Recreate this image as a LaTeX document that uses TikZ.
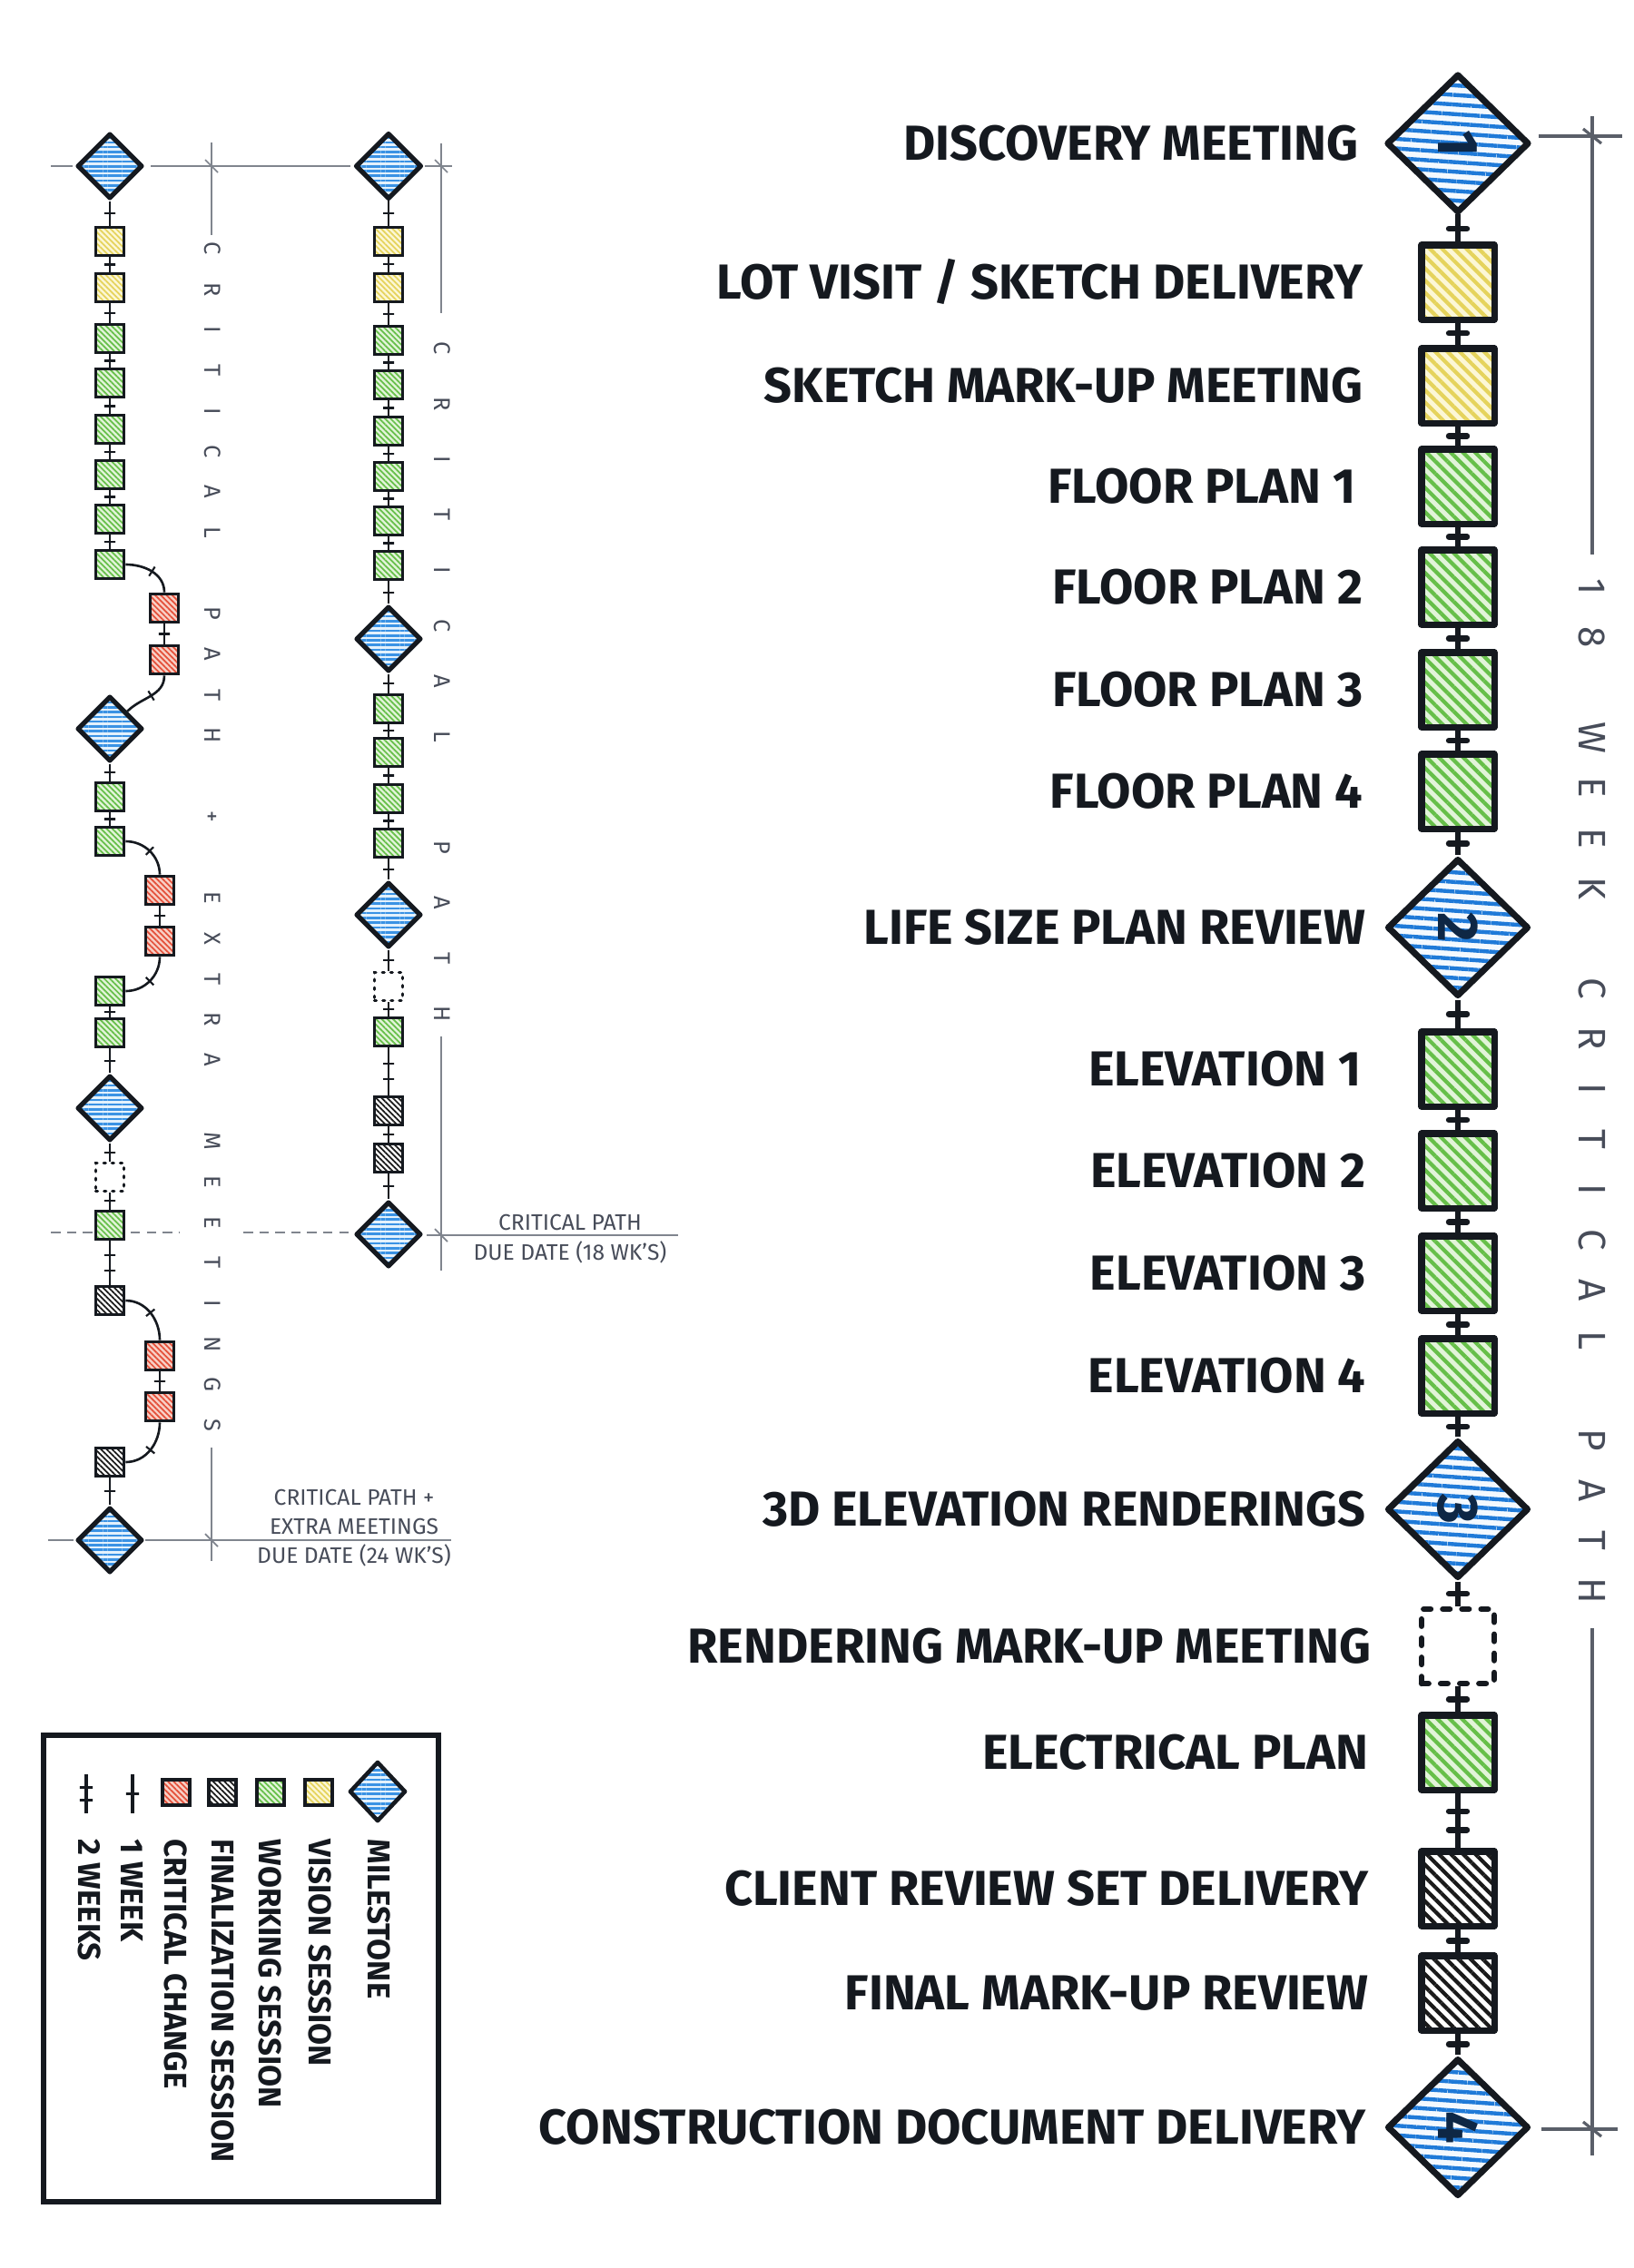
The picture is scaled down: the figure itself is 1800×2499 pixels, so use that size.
\documentclass[tikz,border=0pt]{standalone}
\usepackage{fontspec}
\setmainfont{Fira Sans}
\usepackage{graphicx}
\usetikzlibrary{shapes.geometric,patterns.meta}
\definecolor{ink}{HTML}{15191F}
\definecolor{navy}{HTML}{0E2745}
\definecolor{dimgray}{HTML}{80858E}
\definecolor{dimgrayD}{HTML}{5A5F69}
\definecolor{dimtext}{HTML}{474C59}
\definecolor{blueS}{HTML}{1F7AD8}
\definecolor{blueBg}{HTML}{F4F9FE}
\definecolor{blueSS}{HTML}{3A92E4}
\definecolor{blueBgS}{HTML}{E3F1FC}
\definecolor{yelS}{HTML}{E5D35C}
\definecolor{yelBg}{HTML}{FCF7D6}
\definecolor{grnS}{HTML}{66BF49}
\definecolor{grnBg}{HTML}{E2F4D9}
\definecolor{redS}{HTML}{E4503A}
\definecolor{redBg}{HTML}{F8D0C6}
\definecolor{blkS}{HTML}{1A1A1A}
\definecolor{blkBg}{HTML}{FFFFFF}
\tikzset{
  conn/.style={draw=ink, line width=1.5pt},
  smconn/.style={draw=ink, line width=0.75pt},
  tk/.style={sloped, draw=ink, line width=1.8pt, line join=round, rectangle, minimum width=0pt, minimum height=0.2cm, inner sep=0pt, outer sep=0pt},
  smtk/.style={sloped, draw=ink, line width=0.6pt, rectangle, minimum width=0pt, minimum height=0.12cm, inner sep=0pt, outer sep=0pt},
  bigbox/.style={rectangle, draw=ink, line width=2pt, line join=round, minimum width=0.8cm, minimum height=0.82cm, inner sep=0pt},
  smbox/.style={rectangle, draw=ink, line width=1.1pt, minimum width=0.31cm, minimum height=0.31cm, inner sep=0pt},
  bighatch/.style={preaction={fill=#1Bg}, pattern={Lines[angle=-45,distance=2.7pt,line width=1.2pt]}, pattern color=#1S},
  smhatch/.style={preaction={fill=#1Bg}, pattern={Lines[angle=-45,distance=1.25pt,line width=0.5pt]}, pattern color=#1S},
  bigdia/.style={diamond, draw=ink, line width=2pt, line join=round, minimum width=1.56cm, minimum height=1.52cm, inner sep=0pt, preaction={fill=blueBg}, pattern={Lines[angle=-4,distance=3pt,line width=1.25pt]}, pattern color=blueS, text=navy, font=\bfseries\fontsize{18}{18}\selectfont},
  smdia/.style={diamond, draw=ink, line width=1.5pt, line join=round, minimum width=0.72cm, minimum height=0.72cm, inner sep=0pt, preaction={fill=blueBgS}, pattern={Lines[angle=0,distance=1.5pt,line width=0.75pt]}, pattern color=blueSS},
  bigdot/.style={rectangle, draw=ink, line width=1.8pt, dash pattern=on 2.2pt off 3.8pt, line cap=round, minimum width=0.8cm, minimum height=0.82cm, inner sep=0pt, fill=white},
  smdot/.style={rectangle, draw=ink, line width=0.9pt, dash pattern=on 0.6pt off 2pt, line cap=round, minimum width=0.31cm, minimum height=0.31cm, inner sep=0pt, fill=white},
  mlabel/.style={anchor=east, inner sep=0pt, text=ink, text height=10.6pt, text depth=0pt, font=\bfseries\fontsize{15.4}{15.4}\selectfont},
  legtext/.style={rotate=-90, anchor=west, inner sep=0pt, text=ink, text height=6.8pt, text depth=0pt, font=\bfseries\fontsize{9.9}{9.9}\selectfont},
  dimline/.style={draw=dimgray, line width=0.5pt},
  mdimline/.style={draw=dimgrayD, line width=0.9pt},
  dimtxt/.style={inner sep=0pt, text=dimtext, font=\fontsize{7}{7}\selectfont},
  vletbig/.style={rotate=-90, inner sep=0pt, text=dimtext, text height=8.3pt, text depth=0pt, font=\fontsize{12}{12}\selectfont},
  vletsm/.style={rotate=-90, inner sep=0pt, text=dimtext, text height=5pt, text depth=0pt, font=\fontsize{7.2}{7.2}\selectfont},
}
\begin{document}
\begin{tikzpicture}[x=0.01cm,y=-0.01cm]
\useasboundingbox (0,0) rectangle (1800,2499);
\fill[white] (0,0) rectangle (1800,2499);

% ---------- dimension lines (behind) ----------
\draw[mdimline] (1695,150) -- (1787,150);
\draw[mdimline] (1754,128) -- (1754,611);
\draw[mdimline] (1754,1794) -- (1754,2375);
\draw[mdimline] (1698,2346) -- (1782,2346);
\draw[mdimline] (1744,142) -- (1764,158);
\draw[mdimline] (1744,2338) -- (1764,2354);

\draw[dimline] (56,183) -- (80,183);
\draw[dimline] (166,183) -- (386,183);
\draw[dimline] (468,183) -- (498,183);
\draw[dimline] (233,157) -- (233,259);
\draw[dimline] (233,1595) -- (233,1720);
\draw[dimline] (486,158) -- (486,345);
\draw[dimline] (486,1142) -- (486,1400);
\draw[dimline] (470,1361) -- (747,1361);
\draw[dimline] (53,1697) -- (81,1697);
\draw[dimline] (160,1697) -- (497,1697);
\draw[dimline] (226,176) -- (240,190);
\draw[dimline] (479,176) -- (493,190);
\draw[dimline] (479,1354) -- (493,1368);
\draw[dimline] (226,1690) -- (240,1704);
\draw[dimline, dash pattern=on 3pt off 2pt] (56,1358) -- (197,1358);
\draw[dimline, dash pattern=on 3pt off 2pt] (268,1358) -- (385,1358);

% ---------- main column ----------
\def\mx{1606}
\node[bigdia] (m1) at (\mx,158) {\rotatebox{-90}{1}};
\node[bigbox, bighatch=yel] (m2) at (\mx,311) {};
\node[bigbox, bighatch=yel] (m3) at (\mx,425) {};
\node[bigbox, bighatch=grn] (m4) at (\mx,536) {};
\node[bigbox, bighatch=grn] (m5) at (\mx,647) {};
\node[bigbox, bighatch=grn] (m6) at (\mx,760) {};
\node[bigbox, bighatch=grn] (m7) at (\mx,872) {};
\node[bigdia] (m8) at (\mx,1022) {\rotatebox{-90}{2}};
\node[bigbox, bighatch=grn] (m9) at (\mx,1178) {};
\node[bigbox, bighatch=grn] (m10) at (\mx,1290) {};
\node[bigbox, bighatch=grn] (m11) at (\mx,1403) {};
\node[bigbox, bighatch=grn] (m12) at (\mx,1516) {};
\node[bigdia] (m13) at (\mx,1663) {\rotatebox{-90}{3}};
\node[bigdot] (m14) at (\mx,1814) {};
\node[bigbox, bighatch=grn] (m15) at (\mx,1931) {};
\node[bigbox, bighatch=blk] (m16) at (\mx,2081) {};
\node[bigbox, bighatch=blk] (m17) at (\mx,2196) {};
\node[bigdia] (m18) at (\mx,2344) {\rotatebox{-90}{4}};
\foreach \a/\b in {m1/m2,m2/m3,m3/m4,m4/m5,m5/m6,m6/m7,m7/m8,m8/m9,m9/m10,m10/m11,m11/m12,m12/m13,m13/m14,m14/m15,m16/m17,m17/m18}
  \draw[conn] (\a.south) -- node[tk]{} (\b.north);
\draw[conn] (m15.south) -- node[tk,pos=0.33]{} node[tk,pos=0.67]{} (m16.north);

% main labels
\node[mlabel] (lab1) at (1497,158) {DISCOVERY MEETING};
\node[mlabel] (lab2) at (1502,311) {LOT VISIT / SKETCH DELIVERY};
\node[mlabel] (lab3) at (1502,425) {SKETCH MARK-UP MEETING};
\node[mlabel] (lab4) at (1494,536) {FLOOR PLAN 1};
\node[mlabel] (lab5) at (1502,647) {FLOOR PLAN 2};
\node[mlabel] (lab6) at (1502,760) {FLOOR PLAN 3};
\node[mlabel] (lab7) at (1502,872) {FLOOR PLAN 4};
\node[mlabel] (lab8) at (1505,1022) {LIFE SIZE PLAN REVIEW};
\node[mlabel] (lab9) at (1500,1178) {ELEVATION 1};
\node[mlabel] (lab10) at (1505,1290) {ELEVATION 2};
\node[mlabel] (lab11) at (1505,1403) {ELEVATION 3};
\node[mlabel] (lab12) at (1505,1516) {ELEVATION 4};
\node[mlabel] (lab13) at (1505,1663) {3D ELEVATION RENDERINGS};
\node[mlabel] (lab14) at (1511,1814) {RENDERING MARK-UP MEETING};
\node[mlabel] (lab15) at (1508,1931) {ELECTRICAL PLAN};
\node[mlabel] (lab16) at (1508,2081) {CLIENT REVIEW SET DELIVERY};
\node[mlabel] (lab17) at (1508,2196) {FINAL MARK-UP REVIEW};
\node[mlabel] (lab18) at (1505,2344) {CONSTRUCTION DOCUMENT DELIVERY};

% ---------- right small column (18 weeks) ----------
\def\rx{428}
\node[smdia] (r1) at (\rx,183) {};
\node[smbox, smhatch=yel] (r2) at (\rx,266) {};
\node[smbox, smhatch=yel] (r3) at (\rx,317) {};
\node[smbox, smhatch=grn] (r4) at (\rx,375) {};
\node[smbox, smhatch=grn] (r5) at (\rx,424) {};
\node[smbox, smhatch=grn] (r6) at (\rx,475) {};
\node[smbox, smhatch=grn] (r7) at (\rx,525) {};
\node[smbox, smhatch=grn] (r8) at (\rx,574) {};
\node[smbox, smhatch=grn] (r9) at (\rx,623) {};
\node[smdia] (r10) at (\rx,704) {};
\node[smbox, smhatch=grn] (r11) at (\rx,781) {};
\node[smbox, smhatch=grn] (r12) at (\rx,829) {};
\node[smbox, smhatch=grn] (r13) at (\rx,880) {};
\node[smbox, smhatch=grn] (r14) at (\rx,929) {};
\node[smdia] (r15) at (\rx,1008) {};
\node[smdot] (r16) at (\rx,1087) {};
\node[smbox, smhatch=grn] (r17) at (\rx,1137) {};
\node[smbox, smhatch=blk] (r18) at (\rx,1224) {};
\node[smbox, smhatch=blk] (r19) at (\rx,1276) {};
\node[smdia] (r20) at (\rx,1360) {};
\foreach \a/\b in {r1/r2,r2/r3,r3/r4,r4/r5,r5/r6,r6/r7,r7/r8,r8/r9,r9/r10,r10/r11,r11/r12,r12/r13,r13/r14,r14/r15,r15/r16,r16/r17,r18/r19,r19/r20}
  \draw[smconn] (\a.south) -- node[smtk]{} (\b.north);
\draw[smconn] (r17.south) -- node[smtk,pos=0.33]{} node[smtk,pos=0.67]{} (r18.north);

% ---------- left small column (24 weeks) ----------
\def\lx{121}
\node[smdia] (l1) at (\lx,183) {};
\node[smbox, smhatch=yel] (l2) at (\lx,266) {};
\node[smbox, smhatch=yel] (l3) at (\lx,317) {};
\node[smbox, smhatch=grn] (l4) at (\lx,373) {};
\node[smbox, smhatch=grn] (l5) at (\lx,422) {};
\node[smbox, smhatch=grn] (l6) at (\lx,473) {};
\node[smbox, smhatch=grn] (l7) at (\lx,523) {};
\node[smbox, smhatch=grn] (l8) at (\lx,572) {};
\node[smbox, smhatch=grn] (l9) at (\lx,622) {};
\node[smbox, smhatch=red] (l10) at (181,670) {};
\node[smbox, smhatch=red] (l11) at (181,727) {};
\node[smdia] (l12) at (\lx,803) {};
\node[smbox, smhatch=grn] (l13) at (\lx,878) {};
\node[smbox, smhatch=grn] (l14) at (\lx,927) {};
\node[smbox, smhatch=red] (l15) at (176,981) {};
\node[smbox, smhatch=red] (l16) at (176,1037) {};
\node[smbox, smhatch=grn] (l17) at (\lx,1092) {};
\node[smbox, smhatch=grn] (l18) at (\lx,1138) {};
\node[smdia] (l19) at (\lx,1221) {};
\node[smdot] (l20) at (\lx,1297) {};
\node[smbox, smhatch=grn] (l21) at (\lx,1350) {};
\node[smbox, smhatch=blk] (l22) at (\lx,1433) {};
\node[smbox, smhatch=red] (l23) at (176,1494) {};
\node[smbox, smhatch=red] (l24) at (176,1550) {};
\node[smbox, smhatch=blk] (l25) at (\lx,1611) {};
\node[smdia] (l26) at (\lx,1697) {};
\foreach \a/\b in {l1/l2,l2/l3,l3/l4,l4/l5,l5/l6,l6/l7,l7/l8,l8/l9,l10/l11,l12/l13,l13/l14,l15/l16,l17/l18,l18/l19,l19/l20,l20/l21,l23/l24,l25/l26}
  \draw[smconn] (\a.south) -- node[smtk]{} (\b.north);
\draw[smconn] (l21.south) -- node[smtk,pos=0.33]{} node[smtk,pos=0.67]{} (l22.north);
\draw[smconn] (l9.east) to[out=0,in=90] node[smtk,pos=0.5]{} (l10.north);
\draw[smconn] (l11.south) to[out=-90,in=45] node[smtk,pos=0.5]{} (l12.north east);
\draw[smconn] (l14.east) to[out=0,in=90] node[smtk,pos=0.5]{} (l15.north);
\draw[smconn] (l16.south) to[out=-90,in=0] node[smtk,pos=0.5]{} (l17.east);
\draw[smconn] (l22.east) to[out=0,in=90] node[smtk,pos=0.5]{} (l23.north);
\draw[smconn] (l24.south) to[out=-90,in=0] node[smtk,pos=0.5]{} (l25.east);

% ---------- spaced vertical texts ----------
\foreach \c/\i in {1/0,8/1,W/3,E/4,E/5,K/6,C/8,R/9,I/10,T/11,I/12,C/13,A/14,L/15,P/17,A/18,T/19,H/20}
  \node[vletbig] (va\i) at (1754,{647+55.3*\i}) {\c};
\foreach \c/\i in {C/0,R/1,I/2,T/3,I/4,C/5,A/6,L/7,P/9,A/10,T/11,H/12,+/14,E/16,X/17,T/18,R/19,A/20,M/22,E/23,E/24,T/25,I/26,N/27,G/28,S/29}
  \node[vletsm] (vb\i) at (234,{274+44.7*\i}) {\c};
\foreach \c/\i in {C/0,R/1,I/2,T/3,I/4,C/5,A/6,L/7,P/9,A/10,T/11,H/12}
  \node[vletsm] (vc\i) at (487,{384+61.1*\i}) {\c};

% dimension texts
\node[dimtxt] (t18a) at (628,1347) {CRITICAL PATH};
\node[dimtxt] (t18b) at (628,1380) {DUE DATE (18 WK’S)};
\node[dimtxt] (t24a) at (390,1650) {CRITICAL PATH +};
\node[dimtxt] (t24b) at (390,1682) {EXTRA MEETINGS};
\node[dimtxt] (t24c) at (390,1714) {DUE DATE (24 WK’S)};

% ---------- legend ----------
\node[rectangle, draw=ink, line width=1.6pt, minimum width=4.35cm, minimum height=5.14cm, inner sep=0pt] (legend) at (265.5,2169) {};
\node[smdia, minimum width=0.62cm, minimum height=0.66cm, line width=1.3pt] (lg1) at (416,1974) {};
\node[smbox, smhatch=yel, minimum width=0.3cm, minimum height=0.28cm] (lg2) at (351,1975) {};
\node[smbox, smhatch=grn, minimum width=0.3cm, minimum height=0.28cm] (lg3) at (298,1975) {};
\node[smbox, smhatch=blk, minimum width=0.3cm, minimum height=0.28cm] (lg4) at (245,1975) {};
\node[smbox, smhatch=red, minimum width=0.3cm, minimum height=0.28cm] (lg5) at (194,1975) {};
\coordinate (w1a) at (146,1955);
\coordinate (w1b) at (146,1998);
\coordinate (w2a) at (95,1955);
\coordinate (w2b) at (95,1998);
\draw[smconn, line width=0.9pt] (w1a) -- node[smtk, minimum height=0.14cm, line width=0.8pt]{} (w1b);
\draw[smconn, line width=0.9pt] (w2a) -- node[smtk, pos=0.33, minimum height=0.14cm, line width=0.8pt]{} node[smtk, pos=0.67, minimum height=0.14cm, line width=0.8pt]{} (w2b);
\node[legtext] (lt1) at (417,2026) {MILESTONE};
\node[legtext] (lt2) at (352,2026) {VISION SESSION};
\node[legtext] (lt3) at (297,2026) {WORKING SESSION};
\node[legtext] (lt4) at (245,2026) {FINALIZATION SESSION};
\node[legtext] (lt5) at (193,2026) {CRITICAL CHANGE};
\node[legtext] (lt6) at (145,2026) {1 WEEK};
\node[legtext] (lt7) at (98,2026) {2 WEEKS};
\end{tikzpicture}
\end{document}
